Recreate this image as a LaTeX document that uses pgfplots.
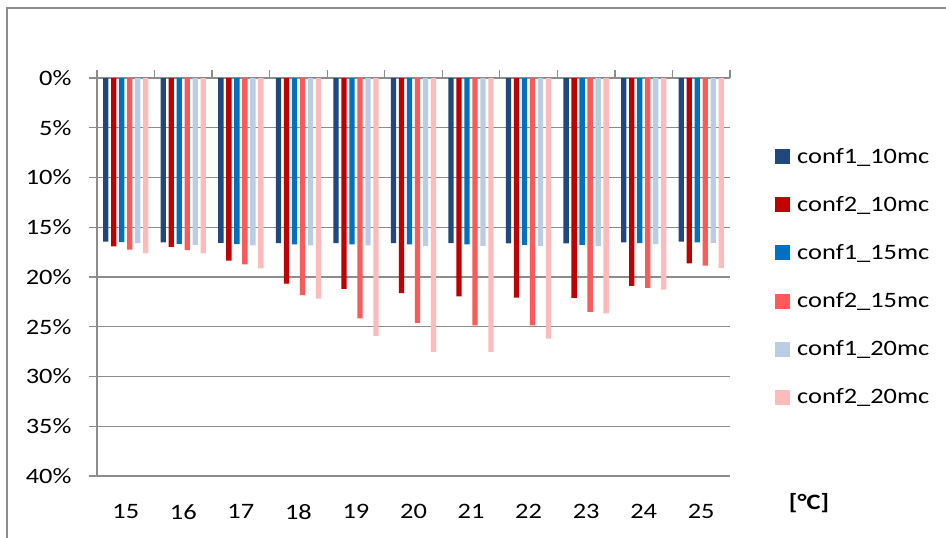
\documentclass[border=0pt]{standalone}
\usepackage{fontspec}
\setmainfont{Carlito}[FakeStretch=1.2]
\usepackage{pgfplots}
\usepackage{pgfplotstable}
\pgfplotsset{compat=1.18}
\definecolor{c1}{HTML}{1F497D}
\definecolor{c2}{HTML}{C00000}
\definecolor{c3}{HTML}{0070C0}
\definecolor{c4}{HTML}{FF5A5A}
\definecolor{c5}{HTML}{B9CDE5}
\definecolor{c6}{HTML}{FFBBBB}
\definecolor{gridc}{HTML}{8C8C8C}
\pgfplotstableread{
x c1 c2 c3 c4 c5 c6
15 16.45 16.92 16.49 17.26 16.59 17.59
16 16.52 16.96 16.66 17.29 16.76 17.63
17 16.56 18.36 16.69 18.73 16.82 19.13
18 16.59 20.67 16.72 21.81 16.82 22.17
19 16.59 21.20 16.72 24.15 16.82 25.92
20 16.59 21.61 16.72 24.62 16.86 27.53
21 16.59 21.94 16.72 24.85 16.86 27.53
22 16.62 22.07 16.76 24.85 16.86 26.19
23 16.62 22.11 16.76 23.51 16.89 23.65
24 16.52 20.90 16.59 21.10 16.69 21.27
25 16.45 18.63 16.52 18.86 16.56 19.10
}\datatable
\begin{document}
\begin{tikzpicture}[x=1pt,y=1pt]
\useasboundingbox (0,0) rectangle (946,538);
\draw[gridc, line width=1.3pt] (7,0) -- (7,530) -- (946,530);
\begin{axis}[
  at={(97pt,62pt)}, anchor=south west,
  scale only axis, width=633pt, height=398pt,
  clip=false,
  y dir=reverse,
  ymin=0, ymax=40,
  xmin=14.5, xmax=25.5,
  ybar=2.7pt, bar width=5.3pt,
  axis line style={draw=none},
  ytick={0,5,...,40},
  yticklabel={\pgfmathprintnumber{\tick}\%},
  ytick pos=left, tick align=outside,
  major tick length=8pt,
  ytick style={gridc, line width=1.3pt},
  ymajorgrids,
  grid style={gridc, line width=1.3pt},
  xtick={15,...,25},
  xtick style={draw=none},
  xticklabel pos=lower,
  xticklabel style={yshift=-17pt},
  yticklabel style={xshift=-14pt},
  /pgf/number format/assume math mode=true,
  tick label style={font=\fontsize{22}{26}\selectfont},
  legend style={draw=none, at={(1,0.5)}, anchor=west, xshift=42pt,
    font=\fontsize{22}{26}\selectfont, row sep=27.5pt,
    cells={anchor=west}},
  legend image code/.code={\fill[#1,draw=none] (0pt,-7.5pt) rectangle (15pt,7.5pt); \path (20pt,0pt);},
]
\addplot[fill=c1, draw=none] table[x=x, y=c1] {\datatable};
\addplot[fill=c2, draw=none] table[x=x, y=c2] {\datatable};
\addplot[fill=c3, draw=none] table[x=x, y=c3] {\datatable};
\addplot[fill=c4, draw=none] table[x=x, y=c4] {\datatable};
\addplot[fill=c5, draw=none] table[x=x, y=c5] {\datatable};
\addplot[fill=c6, draw=none] table[x=x, y=c6] {\datatable};
\legend{conf1\_10mc, conf2\_10mc, conf1\_15mc, conf2\_15mc, conf1\_20mc, conf2\_20mc}
\draw[gridc, line width=1.3pt] (axis cs:14.5,0) -- (axis cs:14.5,40);
\pgfplotsinvokeforeach{14.5,15.5,16.5,17.5,18.5,19.5,20.5,21.5,22.5,23.5,24.5,25.5}{
  \draw[gridc, line width=1.3pt] (axis cs:#1,0) -- ([yshift=8pt]axis cs:#1,0);
}
\end{axis}
\node[font=\fontsize{22}{26}\selectfont\bfseries] at (809,35) {[°C]};
\end{tikzpicture}
\end{document}
